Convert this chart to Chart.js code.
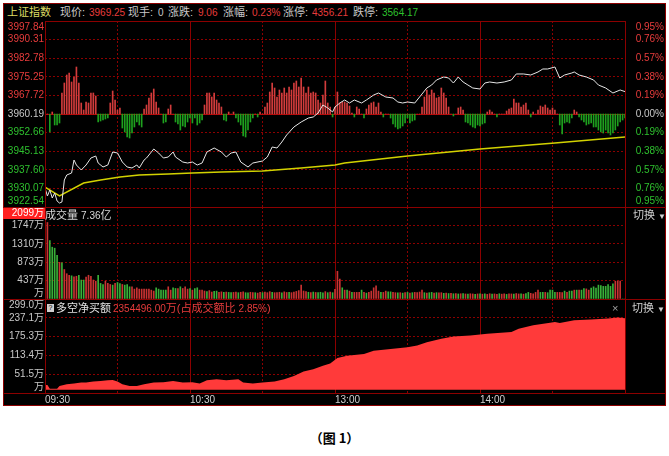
<!DOCTYPE html>
<html>
<head>
<meta charset="utf-8">
<script src="https://cdn.jsdelivr.net/npm/chart.js@4.4.0/dist/chart.umd.min.js"></script>
<style>
  body { margin: 0; background: #fff; width: 669px; height: 456px; position: relative; overflow: hidden;
         font-family: "Liberation Sans", "Noto Sans CJK SC", sans-serif; }
  #box { position: absolute; left: 3px; top: 3px; width: 663px; height: 403px; box-sizing: border-box;
         background: #000; border: 1px solid #8c0000; }
  canvas { position: absolute; left: 3px; }
  .t { position: absolute; white-space: nowrap; font-size: 11px; line-height: 12px; color: #c8c8c8; }
  .n { font-size: 10px; }
  .red { color: #e83c3c; }
  .grn { color: #2ec02e; }
  #caption { position: absolute; left: 0; width: 669px; top: 428px; text-align: center;
             font: bold 13px "Noto Sans CJK SC", sans-serif; color: #000; }
</style>
</head>
<body>
<div id="box"></div>
<canvas id="cPrice" width="663" height="186" style="top:21px"></canvas>
<canvas id="cVol" width="663" height="92" style="top:207px"></canvas>
<canvas id="cNet" width="663" height="106" style="top:299px"></canvas>

<!-- header row -->
<div class="t" style="left:7px;top:6px;color:#dcdc64">上证指数</div>
<div class="t" style="left:60px;top:6px">现价:</div>
<div class="t n red" style="left:89px;top:7px">3969.25</div>
<div class="t" style="left:128px;top:6px">现手:</div>
<div class="t n" style="left:158px;top:7px">0</div>
<div class="t" style="left:168px;top:6px">涨跌:</div>
<div class="t n red" style="left:198px;top:7px">9.06</div>
<div class="t" style="left:223px;top:6px">涨幅:</div>
<div class="t n red" style="left:252px;top:7px">0.23%</div>
<div class="t" style="left:283px;top:6px">涨停:</div>
<div class="t n red" style="left:312px;top:7px">4356.21</div>
<div class="t" style="left:353px;top:6px">跌停:</div>
<div class="t n grn" style="left:382px;top:7px">3564.17</div>

<!-- volume panel -->
<div class="t" style="left:45px;top:209px;color:#d8d8d8">成交量 <span class="n">7.36</span>亿</div>
<div class="t" style="left:633px;top:209px;color:#d0d0d0">切换 <span style="font-size:8px">▼</span></div>

<!-- net buy panel -->
<div class="t" style="left:47px;top:304px;width:7px;height:8px;background:#cfcfcf;color:#000;font-size:7px;line-height:8px;text-align:center">?</div>
<div class="t" style="left:56px;top:302px;color:#e0e0e0">多空净买额</div>
<div class="t red" style="left:113px;top:302px"><span class="n">2354496.00</span>万(占成交额比 <span class="n">2.85%</span>)</div>
<div class="t" style="left:612px;top:302px;color:#a0a0a0">×</div>
<div class="t" style="left:632px;top:302px;color:#d0d0d0">切换 <span style="font-size:8px">▼</span></div>

<div id="caption">（图 1）</div>

<script>
// minutes from 09:30 (0..240, lunch break removed)
const timeTicks = [0, 30, 60, 90, 120, 150, 180, 210, 240];
const timeLabels = { 0: '09:30', 60: '10:30', 120: '13:00', 180: '14:00' };

// index price (white line)
const priceMin = [0, 1, 2, 3, 4, 5, 6, 7, 8, 9, 11, 12, 13, 15, 17, 19, 21, 22, 24, 26, 28, 30, 32, 34, 36, 38, 39,
  41, 42, 45, 47, 49, 51, 53, 54, 57, 59, 61, 63, 65, 67, 70, 73, 75, 77, 79, 81, 84, 86, 90, 92, 94, 96, 98,
  100, 103, 106, 109, 111, 113, 115, 117, 119, 120, 122, 124, 126, 128, 131, 133, 136, 138, 141, 144, 146, 148,
  150, 153, 155, 158, 160, 162, 165, 167, 169, 171, 173, 175, 177, 180, 182, 184, 187, 190, 193, 195, 198, 201,
  204, 206, 208, 211, 213, 215, 218, 219, 221, 224, 227, 229, 232, 235, 238, 240];
const prices = [3930.23, 3926.99, 3929.42, 3926.18, 3928.20, 3924.96, 3924.15, 3924.56, 3933.47, 3935.49, 3936.30,
  3941.56, 3939.54, 3937.52, 3939.54, 3942.37, 3943.18, 3940.35, 3938.73, 3939.54, 3944.80, 3944.40, 3940.75,
  3938.73, 3938.33, 3939.54, 3938.33, 3941.56, 3942.37, 3946.02, 3944.40, 3942.37, 3942.78, 3944.80, 3942.78,
  3940.75, 3940.35, 3940.75, 3939.54, 3940.35, 3944.80, 3946.42, 3944.80, 3942.78, 3944.40, 3944.80, 3940.75,
  3938.73, 3940.35, 3941.16, 3942.78, 3946.83, 3946.42, 3948.85, 3951.69, 3954.93, 3956.95, 3958.57, 3958.98,
  3960.59, 3963.83, 3962.62, 3961.00, 3963.02, 3964.64, 3965.86, 3964.64, 3965.86, 3964.64, 3965.86, 3967.88,
  3968.69, 3967.07, 3966.67, 3965.05, 3964.64, 3965.05, 3964.64, 3967.07, 3970.72, 3971.93, 3973.96, 3975.17,
  3974.77, 3972.74, 3975.17, 3973.15, 3971.93, 3970.72, 3970.31, 3972.74, 3973.15, 3972.74, 3973.15, 3973.96,
  3976.39, 3976.39, 3975.98, 3977.20, 3978.41, 3978.41, 3979.22, 3974.77, 3975.98, 3976.79, 3977.20, 3975.98,
  3975.17, 3973.96, 3971.93, 3970.72, 3968.69, 3969.91, 3969.25];

// average price (yellow line)
const avgMin = [0, 6, 16, 23, 31, 39, 51, 61, 73, 90, 106, 120, 124, 150, 180, 211, 240];
const avgPrices = [3930.63, 3926.99, 3932.25, 3933.47, 3934.68, 3935.49, 3935.90, 3936.30, 3936.71, 3937.11,
  3938.33, 3939.54, 3940.35, 3943.18, 3946.02, 3948.45, 3950.88];

// buy/sell strength bars around the previous close, one per minute
const strength = [
  0, 0, -18, 2, -11, -11, -9, 21, 31, 39,
  41, 32, 37, 47, 31, 11, 4, 12, 11, 21,
  21, 18, -8, -7, -6, -5, -4, 11, 23, 14,
  4, 6, -14, -18, -23, -24, -19, -13, -8, -11,
  -13, 5, 9, 16, 21, 25, 12, 6, 0, -9,
  -8, 5, 9, 0, -8, -10, -16, -12, -13, -8,
  -4, -9, -4, -11, -9, -6, 9, 21, 21, 17,
  21, 14, 11, 7, -6, -7, 2, 0, 2, -4,
  -8, -11, -22, -23, -16, -8, -4, 0, -3, 2,
  0, 7, 11, 22, 31, 26, 17, 24, 21, 26,
  21, 27, 24, 31, 33, 27, 36, 27, 21, 27,
  21, 22, 21, 14, 11, 19, 33, 11, 7, -3,
  7, 22, 11, 12, 12, 11, 8, 1, -3, 7,
  5, 0, -4, 5, 9, 11, 12, 7, 11, 2,
  -3, 0, 0, -4, -10, -13, -15, -14, -12, -9,
  -4, -9, -7, -6, 0, 0, 7, 17, 24, 19,
  24, 21, 16, 17, 26, 21, 16, 7, 0, -2,
  0, 6, 7, 4, -8, -9, -11, -13, -14, -11,
  -12, -10, -9, 2, 4, 2, 0, -3, 0, 0,
  0, 3, 5, 6, 15, 11, 11, 7, 9, 11,
  4, -3, 2, 0, 4, 8, 7, 9, 6, 4,
  6, 4, 0, -11, -20, -9, -8, -9, -4, 4,
  2, -3, -6, -8, -11, -10, -9, -13, -13, -16,
  -18, -19, -16, -19, -21, -19, -16, -12, -8, -6,
  -4];

// volume per minute (万) and its colour (r = up, g = down)
const volumes = [
  606, 1816, 1387, 1230, 1206, 1034, 870, 860, 700, 600,
  560, 550, 525, 540, 564, 450, 450, 520, 564, 540,
  450, 423, 564, 370, 345, 423, 370, 345, 330, 370,
  392, 368, 345, 330, 345, 290, 290, 235, 266, 235,
  235, 235, 235, 235, 211, 188, 266, 235, 211, 211,
  211, 290, 211, 266, 250, 250, 290, 250, 290, 235,
  250, 211, 250, 266, 211, 211, 190, 175, 200, 165,
  180, 188, 160, 170, 157, 165, 157, 150, 157, 165,
  150, 160, 170, 150, 145, 160, 155, 150, 140, 160,
  150, 165, 150, 175, 160, 150, 150, 160, 145, 170,
  155, 160, 150, 165, 180, 200, 330, 190, 175, 160,
  150, 165, 155, 150, 160, 145, 175, 150, 165, 150,
  230, 658, 470, 266, 211, 211, 188, 157, 157, 157,
  157, 211, 157, 140, 157, 188, 266, 313, 188, 157,
  157, 188, 170, 170, 157, 150, 145, 150, 140, 150,
  157, 140, 150, 157, 150, 165, 211, 150, 140, 150,
  157, 140, 150, 145, 150, 135, 140, 130, 135, 125,
  130, 120, 125, 130, 120, 115, 125, 120, 110, 120,
  125, 115, 120, 110, 125, 115, 120, 110, 125, 115,
  120, 110, 125, 120, 115, 130, 120, 125, 115, 130,
  157, 135, 120, 157, 211, 157, 160, 157, 150, 211,
  211, 160, 157, 157, 150, 188, 157, 188, 188, 211,
  211, 211, 211, 250, 240, 211, 258, 290, 260, 330,
  320, 300, 300, 345, 300, 360, 423, 423, 423, 0,
  0];
const volDir =
  'grggggrgrr' + 'rgrrgggrrr' + 'rrgggrrrgr' + 'ggrgggrrrr' + 'rrrrrrgggg' +
  'grrggrgrrr' + 'grggrrrgrr' + 'ggrrgrggrr' + 'grrggrrgrr' + 'grrrgrrrgr' +
  'rgrrrrrrrg' + 'rgrgggrgrg' + 'rrrgrgrgrr' + 'rgrgrrrrrg' + 'rrggrrgrgr' +
  'grgrrrrgrg' + 'grgrrgrgrg' + 'rgrgrgrrgr' + 'grgrrgrrgr' + 'rgrrgrrgrg' +
  'grrrrggrgg' + 'ggrrrgrggr' + 'grggrrgggg' + 'ggggggrrrg' + 'g';

// net long/short buying (万)
const netMin = [0, 1, 2, 5, 6, 9, 12, 15, 17, 20, 23, 26, 28, 30, 32, 35, 38, 41, 45, 49, 53, 57, 61, 64, 67, 71,
  75, 80, 82, 86, 90, 95, 99, 103, 107, 111, 115, 118, 121, 125, 132, 136, 143, 150, 154, 158, 164, 169, 176,
  183, 193, 196, 202, 209, 211, 213, 219, 226, 233, 237, 240];
const netBuy = [16, 16, 4, 4, 12.6, 18.2, 20.6, 23.9, 23.9, 27.2, 29.2, 31.5, 32.5, 27.2, 18.2, 12.6, 12.6, 18.2,
  23.9, 25, 29.2, 23.9, 25, 20.6, 31.5, 34.9, 31.5, 34.9, 23.9, 20.6, 23.9, 27.2, 34.9, 45.8, 60.5, 68.1, 79.1,
  87.1, 104.7, 112.4, 118.1, 129.0, 134.7, 140.4, 145.7, 157.0, 168.0, 175.6, 179.0, 184.6, 190.3, 201.3, 212.2,
  221.2, 223.6, 220.2, 228.9, 231.2, 234.5, 237.9, 235.4];

// axis ticks as printed on the picture
const prevClose = 3960.19;
const priceTicks = [3922.54, 3930.07, 3937.60, 3945.13, 3952.66, 3960.19, 3967.72, 3975.25, 3982.78, 3990.31, 3997.84];
const pctLabels = ['0.95%', '0.76%', '0.57%', '0.38%', '0.19%', '0.00%', '0.19%', '0.38%', '0.57%', '0.76%', '0.95%'];
const volTicks = [0, 436.8, 873.6, 1310.4, 1747.2, 2184];
const volLabels = ['万', '437万', '873万', '1310万', '1747万', '2099万'];
const netTicks = [-10.4, 51.5, 113.4, 175.3, 237.1, 299.0];
const netLabels = ['万', '51.5万', '113.4万', '175.3万', '237.1万', '299.0万'];

const FRAME = '#8c0000';
const GRID = '#8c0000';
const UP = '#e83c3c';
const DOWN = '#2ec02e';
const LABEL_FONT = '10px "Liberation Sans", "Noto Sans CJK SC", sans-serif';

function timeAxis(showLabels) {
  return {
    type: 'linear', min: 0, max: 240, offset: false,
    afterBuildTicks: s => { s.ticks = timeTicks.map(v => ({ value: v })); },
    afterFit: s => { s.height = showLabels ? 12 : 0; },
    grid: { color: GRID, drawTicks: false, offset: false },
    border: { display: false, dash: c => (c.tick && c.tick.value % 60 === 0) ? [] : [2, 2] },
    ticks: {
      display: showLabels, align: 'start', padding: 1, maxRotation: 0, autoSkip: false,
      color: '#d0d0d0', font: { family: '"Liberation Sans", sans-serif', size: 10 },
      callback: v => timeLabels[v] || ''
    }
  };
}

function valueAxis(min, max, ticks, solid) {
  return {
    type: 'linear', min: min, max: max,
    afterBuildTicks: s => { s.ticks = ticks.map(v => ({ value: v })); },
    afterFit: s => { s.width = 0; },
    grid: { color: c => (c.tick && c.tick.value === solid) ? '#b00000' : GRID, drawTicks: false },
    border: { display: false, dash: c => (c.tick && c.tick.value === solid) ? [] : [2, 2] },
    ticks: { display: false }
  };
}

// frame lines and side labels, positioned with the chart's own y scale
function makeFrame(cfg) {
  return {
    id: 'frame',
    afterDraw(chart) {
      const { ctx, chartArea: a, width } = chart;
      const sc = chart.scales.y;
      ctx.save();
      ctx.strokeStyle = FRAME;
      ctx.lineWidth = 1;
      ctx.beginPath();
      const top = Math.round(a.top) + 0.5;
      ctx.moveTo(cfg.topFull ? 0 : a.left, top);
      ctx.lineTo(cfg.topFull ? width : a.right, top);
      const l = Math.round(a.left) + 0.5, r = Math.round(a.right) + 0.5;
      ctx.moveTo(l, a.top); ctx.lineTo(l, a.bottom);
      ctx.moveTo(r, a.top); ctx.lineTo(r, a.bottom);
      if (cfg.bottomFull) {
        const b = Math.round(a.bottom) + 0.5;
        ctx.moveTo(0, b); ctx.lineTo(width, b);
      }
      ctx.stroke();

      ctx.font = LABEL_FONT;
      ctx.textBaseline = 'middle';
      const place = v => Math.min(Math.max(sc.getPixelForValue(v), a.top + 6), a.bottom - 6);
      (cfg.left || []).forEach(lb => {
        const y = place(lb.v);
        if (lb.bg) {
          ctx.fillStyle = lb.bg;
          ctx.fillRect(0, a.top + 1, a.left, 11);
        }
        ctx.textAlign = 'right';
        ctx.fillStyle = lb.color;
        ctx.fillText(lb.text, a.left - 1, y);
      });
      (cfg.right || []).forEach(lb => {
        ctx.textAlign = 'right';
        ctx.fillStyle = lb.color;
        ctx.fillText(lb.text, width - 2, place(lb.v));
      });
      ctx.restore();
    }
  };
}

const base = {
  responsive: false,
  animation: false,
  events: [],
  layout: { padding: { left: 42, right: 41, top: 0, bottom: 0 } },
  plugins: { legend: { display: false }, tooltip: { enabled: false } }
};

const sideColor = v => v > prevClose ? UP : (v < prevClose ? DOWN : '#c8c8c8');

// price panel
new Chart(document.getElementById('cPrice'), {
  type: 'bar',
  data: {
    datasets: [
      { type: 'line', data: priceMin.map((m, i) => ({ x: m, y: prices[i] })), borderColor: '#e6e6e6',
        borderWidth: 1, pointRadius: 0, yAxisID: 'y', order: 1 },
      { type: 'line', data: avgMin.map((m, i) => ({ x: m, y: avgPrices[i] })), borderColor: '#d2d200',
        borderWidth: 1.5, pointRadius: 0, yAxisID: 'y', order: 2 },
      { type: 'bar', data: strength.map((v, i) => ({ x: i, y: v })), barThickness: 1, yAxisID: 'yS', order: 3,
        backgroundColor: c => (c.raw && c.raw.y >= 0) ? '#d23c3c' : '#1ea01e' }
    ]
  },
  options: {
    ...base,
    scales: {
      x: timeAxis(false),
      y: valueAxis(priceTicks[0], priceTicks[priceTicks.length - 1], priceTicks, prevClose),
      yS: { type: 'linear', display: false, min: -93, max: 93 }
    }
  },
  plugins: [makeFrame({
    topFull: false,
    left: priceTicks.map(v => ({ v: v, text: v.toFixed(2), color: sideColor(v) })),
    right: priceTicks.map((v, i) => ({ v: v, text: pctLabels[i], color: sideColor(v) }))
  })]
});

// volume panel
new Chart(document.getElementById('cVol'), {
  type: 'bar',
  data: {
    datasets: [{
      data: volumes.map((v, i) => ({ x: i, y: v })), barThickness: 1,
      backgroundColor: c => volDir[c.dataIndex] === 'r' ? '#c83232' : '#38b038'
    }]
  },
  options: {
    ...base,
    scales: { x: timeAxis(false), y: valueAxis(0, volTicks[volTicks.length - 1], volTicks, null) }
  },
  plugins: [makeFrame({
    topFull: true,
    left: volTicks.map((v, i) => ({
      v: v, text: volLabels[i],
      color: i === volTicks.length - 1 ? '#ffffff' : '#c8c8c8',
      bg: i === volTicks.length - 1 ? '#ff2020' : null
    }))
  })]
});

// net buying panel
new Chart(document.getElementById('cNet'), {
  type: 'line',
  data: {
    datasets: [{
      data: netMin.map((m, i) => ({ x: m, y: netBuy[i] })), fill: 'origin',
      backgroundColor: '#ff3a3a', borderColor: '#ff3a3a', borderWidth: 0, pointRadius: 0
    }]
  },
  options: {
    ...base,
    scales: { x: timeAxis(true), y: valueAxis(netTicks[0], netTicks[netTicks.length - 1], netTicks, null) }
  },
  plugins: [makeFrame({
    topFull: true, bottomFull: true,
    left: netTicks.map((v, i) => ({ v: v, text: netLabels[i], color: '#c8c8c8' }))
  })]
});
</script>
</body>
</html>
